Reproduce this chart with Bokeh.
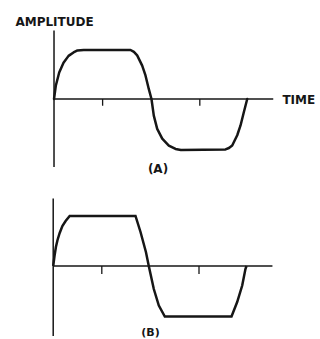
from bokeh.plotting import figure
from bokeh.layouts import column
from bokeh.models import Range1d
from bokeh.core.properties import value
from bokeh.embed import file_html
from bokeh.resources import INLINE

# ---- data (time in electrical degrees, amplitude in clip-level units) ----
wave_a_t = [0, 3.3, 9.6, 17.6, 26.9, 36.1, 43.5, 55, 141.7, 148, 154, 163.3, 169.4, 175.6, 180.5,
            184.8, 191.1, 200.4, 212.6, 225, 235, 317.6, 324, 330, 339.3, 345.4, 351.5, 357.8]
wave_a_v = [0, 0.27, 0.54, 0.74, 0.88, 0.95, 0.99, 1.0, 1.0, 0.96, 0.89, 0.68, 0.48, 0.2, 0,
            -0.34, -0.61, -0.81, -0.95, -1.02, -1.04, -1.03, -1.0, -0.95, -0.74, -0.54, -0.27, 0]

wave_b_t = [0, 2.4, 5, 8, 12, 17, 23, 30.5, 152.4, 161.7, 171.7, 177,
            186.3, 195.6, 206.7, 330.2, 340.7, 350, 356, 358]
wave_b_v = [0, 0.2, 0.38, 0.52, 0.66, 0.8, 0.9, 1.0, 1.0, 0.68, 0.28, 0,
            -0.46, -0.79, -1.01, -1.01, -0.72, -0.39, -0.06, 0]

tick_t = [90, 270]

y_label = "AMPLITUDE"
x_label = "TIME"
panel_labels = ["(A)", "(B)"]

INK = "#161616"
FONT = value("DejaVu Sans")


def base_fig(h, xr, yr):
    p = figure(width=320, height=h, output_backend="svg", toolbar_location=None,
               x_range=Range1d(*xr), y_range=Range1d(*yr),
               x_axis_location=None, y_axis_location=None, min_border=0)
    p.grid.visible = False
    p.outline_line_color = None
    p.background_fill_color = "white"
    p.border_fill_color = "white"
    return p


def axes(p, y_lo, y_hi, x_end, tick_len):
    p.segment(x0=[0], y0=[y_lo], x1=[0], y1=[y_hi], line_color=INK, line_width=1.5)
    p.segment(x0=[0], y0=[0], x1=[x_end], y1=[0], line_color=INK, line_width=1.5)
    p.segment(x0=tick_t, y0=[0] * len(tick_t), x1=tick_t, y1=[-tick_len] * len(tick_t),
              line_color=INK, line_width=1.3)


def label(p, x, y, txt, align="center", size="12px"):
    p.text(x=[x], y=[y], text=[txt], text_font=FONT, text_font_style="bold",
           text_font_size=size, text_color=INK, text_align=align, text_baseline="middle")


# ---- panel A ----
pa = base_fig(181, (-99.1, 493.5), (-1.684, 2.010))
axes(pa, -1.39, 1.4, 406, 0.14)
pa.line(wave_a_t, wave_a_v, line_color=INK, line_width=2.5, line_join="round", line_cap="round")
label(pa, 1, 1.58, y_label)
label(pa, 423, -0.02, x_label, align="left")
label(pa, 192.6, -1.42, panel_labels[0])

# ---- panel B ----
pb = base_fig(158, (-97.6, 495.0), (-1.47, 1.69))
axes(pb, -1.4, 1.35, 406, 0.16)
pb.line(wave_b_t, wave_b_v, line_color=INK, line_width=2.5, line_join="miter")
label(pb, 180.2, -1.32, panel_labels[1], size="11px")

layout = column(pa, pb, spacing=0)

open("out.html", "w").write(file_html(layout, INLINE))
